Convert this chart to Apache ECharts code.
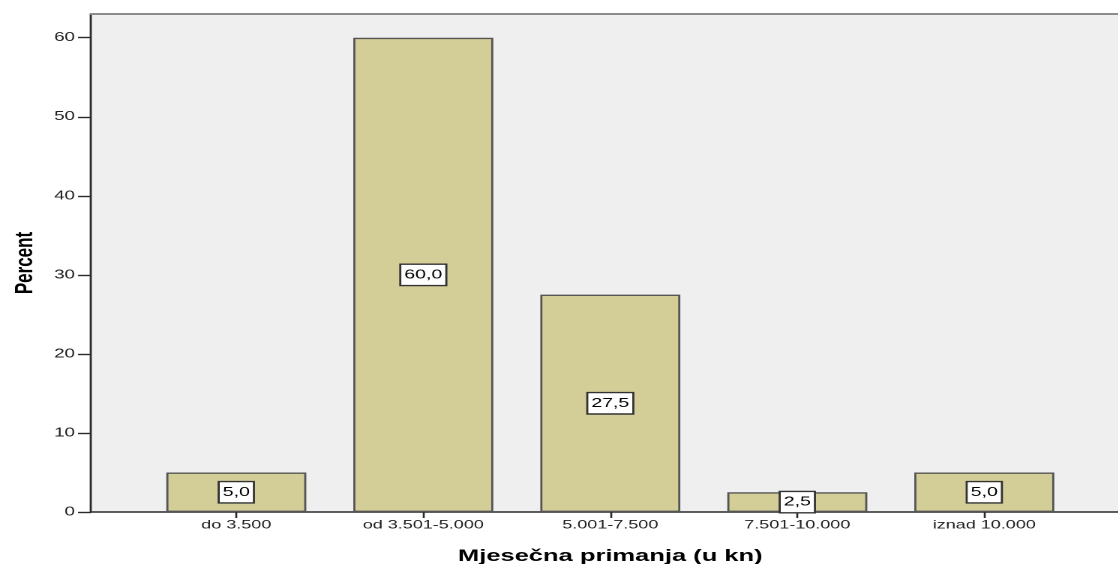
<!DOCTYPE html>
<html><head><meta charset="utf-8">
<script src="https://cdn.jsdelivr.net/npm/echarts@6/dist/echarts.min.js"></script>
<style>
html,body{margin:0;padding:0;background:#fff;overflow:hidden}
#wrap{width:1118px;height:564px;overflow:hidden;position:relative}
#c{width:760px;height:564px;transform:scaleX(1.5);transform-origin:0 0}
</style>
</head><body><div id="wrap"><div id="c"></div></div>
<script>
const categories = ['do 3.500', 'od 3.501-5.000', '5.001-7.500', '7.501-10.000', 'iznad 10.000'];
const percents = [5.0, 60.0, 27.5, 2.5, 5.0];
const yTicks = [0, 10, 20, 30, 40, 50, 60];
const yTitle = 'Percent';
const xTitle = 'Mjesečna primanja (u kn)';

const S = 1.5; // horizontal stretch of the original picture
const chart = echarts.init(document.getElementById('c'), null, {renderer: 'canvas', devicePixelRatio: 2});
const font = 'Liberation Sans, Arial, sans-serif';
const axisCol = '#2a2a2a';
chart.setOption({
  animation: false,
  grid: [
    {left: 91 / S, right: 0, top: 14, bottom: 52, outerBoundsMode: 'none', containLabel: false,
     show: true, backgroundColor: '#efefef', borderWidth: 0},
    {left: 142.8 / S, width: 935 / S, top: 14, bottom: 52, outerBoundsMode: 'none', containLabel: false}
  ],
  xAxis: [
    {gridIndex: 0, type: 'value', min: 0, max: 1, axisLine: {show: true, onZero: false, lineStyle: {color: axisCol, width: 1.6}},
     axisTick: {show: false}, axisLabel: {show: false}, splitLine: {show: false}},
    {gridIndex: 1, type: 'category', data: categories, boundaryGap: true,
     axisLine: {show: false}, axisTick: {show: true, alignWithLabel: true, length: 6, lineStyle: {color: axisCol, width: 1.3}},
     axisLabel: {color: '#222', fontSize: 12, fontFamily: font, margin: 7},
     name: xTitle, nameLocation: 'middle', nameGap: 36,
     nameTextStyle: {fontFamily: font, fontWeight: 'bold', fontSize: 17, color: '#000'}},
    {gridIndex: 0, type: 'value', position: 'top', min: 0, max: 1,
     axisLine: {show: true, onZero: false, lineStyle: {color: '#8c8c8c', width: 2}},
     axisTick: {show: false}, axisLabel: {show: false}, splitLine: {show: false}}
  ],
  yAxis: [
    {gridIndex: 0, type: 'value', min: 0, max: 63,
     axisLine: {show: true, lineStyle: {color: axisCol, width: 1.4}},
     axisTick: {show: true, length: 13 / S, customValues: yTicks, lineStyle: {color: axisCol, width: 1.4}},
     axisLabel: {color: '#222', fontSize: 12.5, fontFamily: font, margin: 16 / S, customValues: yTicks},
     splitLine: {show: false},
     name: yTitle, nameLocation: 'middle', nameRotate: 90, nameGap: 35,
     nameTextStyle: {fontFamily: font, fontWeight: 'bold', fontSize: 17, color: '#000'}},
    {gridIndex: 1, type: 'value', min: 0, max: 63, show: false, splitLine: {show: false}}
  ],
  series: [{
    type: 'bar', xAxisIndex: 1, yAxisIndex: 1, data: percents, barWidth: 140 / S,
    itemStyle: {color: '#d3cd97', borderColor: '#555', borderWidth: 1.4},
    label: {show: true, position: 'inside', color: '#000', fontSize: 13, fontFamily: font,
      backgroundColor: '#fff', borderColor: '#333', borderWidth: 1.4, padding: [4, 2, 3, 2],
      formatter: p => p.value.toFixed(1).replace('.', ',')}
  }]
});
</script></body></html>
